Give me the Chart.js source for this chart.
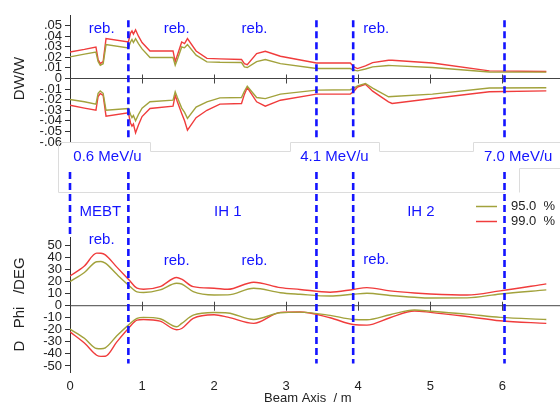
<!DOCTYPE html>
<html>
<head>
<meta charset="utf-8">
<script src="https://cdn.jsdelivr.net/npm/chart.js@4/dist/chart.umd.min.js"></script>
<style>
  html, body { margin: 0; padding: 0; background: #fff; }
  #wrap { position: relative; width: 560px; height: 403px; }
  #wrap canvas { position: absolute; left: 0; top: 0; }
</style>
</head>
<body>
<div id="wrap">
  <canvas id="grafico-fase" width="560" height="403"></canvas>
  <canvas id="grafico-energia" width="560" height="403"></canvas>
</div>
<script>
// Posições ao longo do eixo (m) - gráfico de DW/W
const posDW = [0, 0.2, 0.36, 0.39, 0.42, 0.46, 0.50, 0.81, 0.84, 0.86, 0.88, 0.91, 0.95, 1.0, 1.11,
  1.43, 1.46, 1.49, 1.55, 1.59, 1.63, 1.75, 1.90, 2.08, 2.38, 2.42, 2.46, 2.59, 2.71, 2.92,
  3.42, 3.89, 3.94, 3.99, 4.10, 4.20, 4.42, 4.47, 5.03, 5.82, 6.61];
const dw99Sup = [0.025, 0.0275, 0.0298, 0.018, 0.014, 0.016, 0.0377, 0.0345, 0.043, 0.045, 0.042, 0.046, 0.040, 0.034, 0.026,
  0.026, 0.016, 0.022, 0.0345, 0.033, 0.0377, 0.026, 0.019, 0.0185, 0.018, 0.014, 0.013, 0.0236, 0.0257, 0.021,
  0.0147, 0.0147, 0.011, 0.0094, 0.012, 0.015, 0.0173, 0.0172, 0.0147, 0.0072, 0.0066];
const dw95Sup = [0.0204, 0.023, 0.025, 0.016, 0.0125, 0.014, 0.032, 0.0289, 0.0345, 0.0368, 0.034, 0.0377, 0.033, 0.028, 0.0198,
  0.0198, 0.0125, 0.018, 0.0298, 0.029, 0.032, 0.022, 0.0157, 0.0153, 0.0151, 0.011, 0.0104, 0.016, 0.018, 0.0141,
  0.0094, 0.0094, 0.008, 0.0072, 0.009, 0.011, 0.0123, 0.0122, 0.0104, 0.0062, 0.006];
const dw99Inf = [-0.0252, -0.028, -0.030, -0.017, -0.0142, -0.016, -0.0356, -0.0324, -0.042, -0.045, -0.043, -0.0513, -0.044, -0.036, -0.0283,
  -0.0261, -0.0158, -0.022, -0.033, -0.040, -0.0488, -0.037, -0.030, -0.0242, -0.0236, -0.015, -0.0085, -0.022, -0.0261, -0.0205,
  -0.0148, -0.0148, -0.012, -0.008, -0.0054, -0.012, -0.022, -0.0236, -0.0189, -0.0125, -0.0117];
const dw95Inf = [-0.0198, -0.022, -0.0242, -0.014, -0.0117, -0.014, -0.030, -0.0283, -0.034, -0.037, -0.035, -0.040, -0.034, -0.028, -0.022,
  -0.0205, -0.0126, -0.018, -0.028, -0.032, -0.0377, -0.027, -0.022, -0.0183, -0.018, -0.012, -0.0073, -0.018, -0.019, -0.0148,
  -0.011, -0.0106, -0.009, -0.007, -0.0047, -0.009, -0.0173, -0.017, -0.0148, -0.009, -0.0088];

// Posições - gráfico de D Phi
const posPhi = [0, 0.2, 0.37, 0.43, 0.49, 0.65, 0.81, 0.93, 1.02, 1.25, 1.48, 1.55, 1.71, 2.0, 2.19, 2.55,
  2.92, 3.19, 3.61, 3.93, 4.12, 4.44, 4.78, 5.0, 5.51, 5.97, 6.61];
const phi99Sup = [24.7, 33, 43.6, 43.5, 42.2, 32, 22, 14.5, 13.6, 15.8, 23.4, 22, 15.8, 14.5, 13.6, 19.5,
  15, 13.5, 11.2, 13.5, 15, 12.3, 10.5, 9.75, 8.9, 12.3, 18.1];
const phi95Sup = [20, 27.5, 36.5, 36.7, 35.3, 26, 17.2, 11.5, 11, 13.1, 18.6, 18, 11.7, 8.9, 9, 14.5,
  10.8, 9.5, 8, 9.5, 10.3, 8.5, 7, 6.4, 6.5, 9.75, 13.1];
const phi99Inf = [-21.7, -31, -41.1, -42, -41.9, -30, -18.9, -12, -11.4, -12.8, -20, -18.9, -10.5, -7.5, -9.5, -14.7,
  -5.5, -5.2, -10, -15.6, -16.1, -10, -4.4, -5.5, -9, -12.5, -14.7];
const phi95Inf = [-19.4, -27, -35.5, -35.7, -35, -25, -16.1, -10.5, -9.7, -10.8, -17.5, -14.7, -7.8, -5.6, -6, -11.4,
  -5.8, -5.3, -8, -11.4, -11.6, -7.5, -3.6, -4.6, -7, -9.7, -11.4];

// Marcas dos eixos
const xTicks = [0, 1, 2, 3, 4, 5, 6];
const dwTicks = [-0.06, -0.05, -0.04, -0.03, -0.02, -0.01, 0, 0.01, 0.02, 0.03, 0.04, 0.05];
const phiTicks = [-50, -40, -30, -20, -10, 0, 10, 20, 30, 40, 50];

// Anotações
const limites = [0.81, 3.42, 3.93, 6.03];
const energias = ["0.6 MeV/u", "4.1 MeV/u", "7.0 MeV/u"];
const energiasPos = [0.52, 3.67, 6.22];
const secoes = ["MEBT", "IH 1", "IH 2"];
const secoesPos = [0.42, 2.19, 4.87];
const rebPos = [0.44, 1.48, 2.56, 4.25];
const rebFaseY = [55, 37.5, 37.5, 38];
const legendas = ["95.0  %", "99.0  %"];

const corVermelho = "#f03c3c";
const corOliva = "#a2a23c";
const corAzul = "#1414ff";
const corTexto = "#222";
const fonte = "Liberation Sans, Arial, sans-serif";

function pontos(xs, ys) {
  return xs.map((x, i) => ({ x: x, y: ys[i] }));
}

function serie(label, xs, ys, cor, tension) {
  return {
    label: label,
    data: pontos(xs, ys),
    borderColor: cor,
    borderWidth: 1.4,
    pointRadius: 0,
    tension: tension,
    cubicInterpolationMode: tension ? "monotone" : "default",
  };
}

// linha do zero com marcas em cada metro
const linhaZero = {
  id: "linhaZero",
  beforeDatasetsDraw(chart) {
    const ctx = chart.ctx;
    const x = chart.scales.x;
    const y0 = chart.scales.y.getPixelForValue(0);
    ctx.save();
    ctx.strokeStyle = "#444";
    ctx.lineWidth = 1;
    ctx.beginPath();
    ctx.moveTo(chart.chartArea.left, y0);
    ctx.lineTo(chart.chartArea.right, y0);
    xTicks.slice(1).forEach((t) => {
      const px = Math.round(x.getPixelForValue(t)) + 0.5;
      ctx.moveTo(px, y0 - 4);
      ctx.lineTo(px, y0 + 5);
    });
    ctx.stroke();
    ctx.restore();
  },
};

function eixoY(min, max, marcas, titulo, fmt) {
  return {
    min: min,
    max: max,
    afterBuildTicks: (s) => { s.ticks = marcas.map((v) => ({ value: v })); },
    afterFit: (s) => { s.width = 70; },
    border: { color: "#333", width: 1 },
    grid: { drawOnChartArea: false, tickLength: 5, color: "#333" },
    ticks: { color: corTexto, padding: 3, autoSkip: false, font: { family: fonte, size: 13 }, callback: fmt },
    title: { display: true, text: titulo, color: corTexto, font: { family: fonte, size: 15 }, padding: { top: 11, bottom: 0 } },
  };
}

// Gráfico inferior: D Phi
const graficoFase = new Chart(document.getElementById("grafico-fase"), {
  type: "line",
  data: {
    datasets: [
      serie("95.0 %", posPhi, phi95Sup, corOliva, 0.4),
      serie("95.0 %", posPhi, phi95Inf, corOliva, 0.4),
      serie("99.0 %", posPhi, phi99Sup, corVermelho, 0.4),
      serie("99.0 %", posPhi, phi99Inf, corVermelho, 0.4),
    ],
  },
  options: {
    responsive: false,
    animation: false,
    layout: { padding: { top: 237, bottom: 0, left: 0, right: 0 } },
    plugins: { legend: { display: false }, tooltip: { enabled: false } },
    scales: {
      x: {
        type: "linear",
        min: 0,
        max: 6.8,
        afterBuildTicks: (s) => { s.ticks = xTicks.map((v) => ({ value: v })); },
        afterFit: (s) => { s.height = 31; },
        border: { display: false },
        grid: { display: false, drawTicks: false },
        ticks: { color: corTexto, padding: 7, maxRotation: 0, autoSkip: false, font: { family: fonte, size: 13 } },
        title: { display: true, text: "Beam Axis  / m    ", color: corTexto, font: { family: fonte, size: 13 }, padding: { top: 0, bottom: -3 } },
      },
      y: eixoY(-55, 57, phiTicks, "D   Phi   /DEG", (v) => String(v)),
    },
  },
  plugins: [linhaZero],
});

// Anotações (linhas tracejadas, textos, legenda)
const anotacoes = {
  id: "anotacoes",
  afterDraw(chart) {
    const ctx = chart.ctx;
    const x = chart.scales.x;
    const yDW = chart.scales.y;
    const yPhi = graficoFase.scales.y;
    ctx.save();

    // molduras claras das caixas de texto
    ctx.strokeStyle = "#dcdcdc";
    ctx.lineWidth = 1;
    ctx.beginPath();
    ctx.moveTo(58.5, 192.5); ctx.lineTo(58.5, 142.5); ctx.lineTo(150.5, 142.5); ctx.lineTo(150.5, 151.5);
    ctx.lineTo(290.5, 151.5); ctx.lineTo(290.5, 142.5); ctx.lineTo(379.5, 142.5); ctx.lineTo(379.5, 151.5);
    ctx.lineTo(473.5, 151.5); ctx.lineTo(473.5, 142.5); ctx.lineTo(560, 142.5);
    ctx.moveTo(58.5, 192.5); ctx.lineTo(505, 192.5);
    ctx.moveTo(519.5, 192.5); ctx.lineTo(519.5, 168.5); ctx.lineTo(560, 168.5);
    ctx.stroke();

    // linhas tracejadas
    ctx.strokeStyle = corAzul;
    ctx.lineWidth = 2.6;
    ctx.setLineDash([7, 4]);
    ctx.beginPath();
    const x0 = x.getPixelForValue(0);
    ctx.moveTo(x0, 172);
    ctx.lineTo(x0, yPhi.getPixelForValue(57));
    limites.forEach((v) => {
      const px = x.getPixelForValue(v);
      ctx.moveTo(px, yDW.getPixelForValue(0.055));
      ctx.lineTo(px, yDW.getPixelForValue(-0.056));
      ctx.moveTo(px, 172);
      ctx.lineTo(px, yPhi.getPixelForValue(-48));
    });
    ctx.stroke();
    ctx.setLineDash([]);

    // textos azuis
    ctx.fillStyle = corAzul;
    ctx.font = "15px " + fonte;
    ctx.textAlign = "center";
    ctx.textBaseline = "middle";
    energias.forEach((t, i) => ctx.fillText(t, x.getPixelForValue(energiasPos[i]), 157));
    secoes.forEach((t, i) => ctx.fillText(t, x.getPixelForValue(secoesPos[i]), 212));
    rebPos.forEach((v, i) => {
      ctx.fillText("reb.", x.getPixelForValue(v), yDW.getPixelForValue(0.0465));
      ctx.fillText("reb.", x.getPixelForValue(v), yPhi.getPixelForValue(rebFaseY[i]));
    });

    // legenda
    const cores = [corOliva, corVermelho];
    ctx.font = "13px " + fonte;
    ctx.textAlign = "left";
    legendas.forEach((t, i) => {
      const ly = 206.5 + i * 15;
      ctx.strokeStyle = cores[i];
      ctx.lineWidth = 1.5;
      ctx.beginPath();
      ctx.moveTo(476, ly);
      ctx.lineTo(497, ly);
      ctx.stroke();
      ctx.fillStyle = corTexto;
      ctx.fillText(t, 511, ly);
    });
    ctx.restore();
  },
};

// Gráfico superior: DW/W
const graficoEnergia = new Chart(document.getElementById("grafico-energia"), {
  type: "line",
  data: {
    datasets: [
      serie("95.0 %", posDW, dw95Sup, corOliva, 0),
      serie("95.0 %", posDW, dw95Inf, corOliva, 0),
      serie("99.0 %", posDW, dw99Sup, corVermelho, 0),
      serie("99.0 %", posDW, dw99Inf, corVermelho, 0),
    ],
  },
  options: {
    responsive: false,
    animation: false,
    layout: { padding: { top: 15, bottom: 261, left: 0, right: 0 } },
    plugins: { legend: { display: false }, tooltip: { enabled: false } },
    scales: {
      x: { type: "linear", min: 0, max: 6.8, display: false },
      y: eixoY(-0.06, 0.06, dwTicks, "DW/W", (v) => (v === 0 ? "0" : v.toFixed(2).replace("0.", "."))),
    },
  },
  plugins: [linhaZero, anotacoes],
});
</script>
</body>
</html>
